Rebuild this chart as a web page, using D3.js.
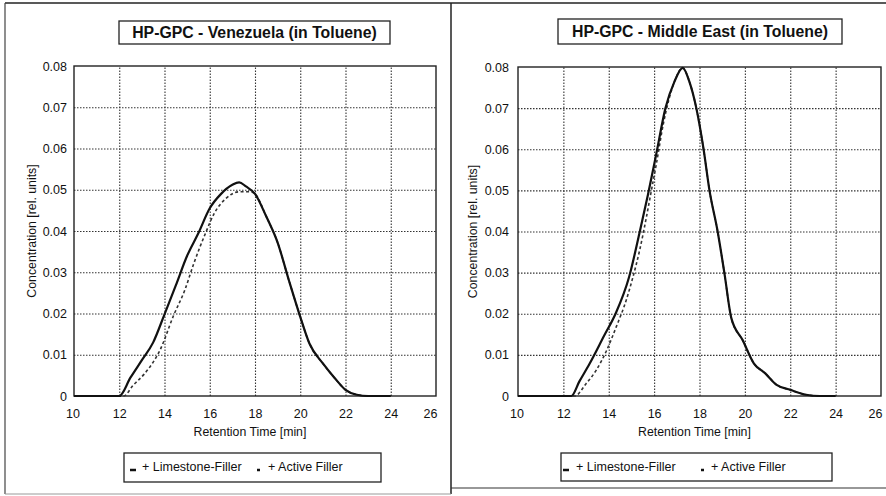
<!DOCTYPE html>
<html>
<head>
<meta charset="utf-8">
<script src="https://cdn.jsdelivr.net/npm/d3@7"></script>
<style>
  html, body { margin: 0; padding: 0; background: #fff; }
  svg { display: block; font-family: "Liberation Sans", Arial, sans-serif; }
</style>
</head>
<body>
<svg id="chart" width="886" height="496"></svg>
<script>
// ---------------- DATA ----------------
const xTicks = [10, 12, 14, 16, 18, 20, 22, 24, 26];
const yTicks = [0, 0.01, 0.02, 0.03, 0.04, 0.05, 0.06, 0.07, 0.08];
const titles = ["HP-GPC - Venezuela (in Toluene)", "HP-GPC - Middle East (in Toluene)"];
const xTitle = "Retention Time [min]";
const yTitle = "Concentration [rel. units]";
const legendLabels = ["+ Limestone-Filler", "+ Active Filler"];

// Venezuela – Limestone-Filler (solid)
const venLimeTime = [10, 11, 12, 12.5, 13, 13.5, 14, 14.5, 15, 15.5, 16, 16.5, 17, 17.3, 17.6, 18, 18.5, 19, 19.5, 20, 20.4, 21, 21.5, 22, 22.5, 23, 24];
const venLimeConc = [0, 0, 0, 0.0045, 0.0087, 0.013, 0.0198, 0.0268, 0.034, 0.0395, 0.0455, 0.049, 0.0512, 0.0518, 0.0508, 0.049, 0.0435, 0.0372, 0.028, 0.0192, 0.0128, 0.0079, 0.0045, 0.0015, 0.0003, 0, 0];
// Venezuela – Active Filler (dashed)
const venActTime = [10, 11, 12, 12.2, 12.6, 13.1, 13.5, 13.8, 14.4, 14.9, 15.3, 15.8, 16.2, 16.7, 17.3, 17.8, 18, 18.5, 19, 19.5, 20, 20.4, 21, 21.5, 22, 22.5, 23, 24];
const venActConc = [0, 0, 0, 0, 0.0025, 0.0053, 0.0082, 0.0111, 0.0195, 0.0257, 0.0322, 0.0393, 0.0443, 0.0478, 0.0495, 0.0495, 0.049, 0.0435, 0.0372, 0.028, 0.0192, 0.0128, 0.0079, 0.0045, 0.0015, 0.0003, 0, 0];

// Middle East – Limestone-Filler (solid)
const meLimeTime = [10, 11, 12, 12.35, 12.7, 13.16, 13.8, 14.3, 14.9, 15.35, 15.73, 16.1, 16.5, 16.9, 17.26, 17.55, 17.86, 18.18, 18.44, 18.8, 19.1, 19.4, 19.9, 20.4, 20.9, 21.4, 22, 22.7, 23.3, 24];
const meLimeConc = [0, 0, 0, 0, 0.0035, 0.0079, 0.0147, 0.02, 0.029, 0.0395, 0.049, 0.059, 0.07, 0.0765, 0.0798, 0.0765, 0.07, 0.06, 0.05, 0.04, 0.0298, 0.019, 0.0136, 0.0079, 0.0055, 0.0027, 0.0015, 0.0003, 0, 0];
// Middle East – Active Filler (dashed)
const meActTime = [10, 11, 12, 12.5, 13, 13.45, 13.9, 14.33, 14.77, 15.07, 15.36, 15.66, 15.88, 16.1, 16.4, 16.9, 17.26, 17.55, 17.86, 18.18, 18.44, 18.8, 19.1, 19.4, 19.9, 20.4, 20.9, 21.4, 22, 22.7, 23.3, 24];
const meActConc = [0, 0, 0, 0, 0.003, 0.0063, 0.011, 0.0168, 0.0233, 0.029, 0.0354, 0.0435, 0.05, 0.0565, 0.066, 0.0765, 0.0798, 0.0765, 0.07, 0.06, 0.05, 0.04, 0.0298, 0.019, 0.0136, 0.0079, 0.0055, 0.0027, 0.0015, 0.0003, 0, 0];

// ---------------- LAYOUT ----------------
const svg = d3.select("#chart");

// outer frame (scanned table borders)
svg.append("line").attr("x1", 5).attr("y1", 3).attr("x2", 886).attr("y2", 3).attr("stroke", "#222").attr("stroke-width", 1.5);
svg.append("line").attr("x1", 5).attr("y1", 3).attr("x2", 5).attr("y2", 494).attr("stroke", "#444").attr("stroke-width", 1.2);
svg.append("line").attr("x1", 451).attr("y1", 3).attr("x2", 451).attr("y2", 494).attr("stroke", "#222").attr("stroke-width", 1.5);
svg.append("line").attr("x1", 5).attr("y1", 494).attr("x2", 451).attr("y2", 494).attr("stroke", "#999").attr("stroke-width", 1);
svg.append("line").attr("x1", 451).attr("y1", 488).attr("x2", 886).attr("y2", 488).attr("stroke", "#333").attr("stroke-width", 1.2);

const panels = [
  {
    title: titles[0],
    plot: { left: 74, right: 436, top: 66, bottom: 396 },
    titleBox: { x: 119, y: 21, w: 271, h: 23 },
    legendBox: { x: 124, y: 453, w: 257, h: 29 },
    legendItems: [{ sx: 130, tx: 142 }, { sx: 257, tx: 268 }],
    yLabelX: 32, yTickGap: 7,
    series: [
      { t: venLimeTime, c: venLimeConc, dash: null },
      { t: venActTime, c: venActConc, dash: "3,2.5" }
    ]
  },
  {
    title: titles[1],
    plot: { left: 518, right: 881, top: 67, bottom: 396 },
    titleBox: { x: 558, y: 19, w: 284, h: 25 },
    legendBox: { x: 561, y: 453, w: 271, h: 28 },
    legendItems: [{ sx: 563, tx: 576 }, { sx: 701, tx: 711 }],
    yLabelX: 473, yTickGap: 9,
    series: [
      { t: meLimeTime, c: meLimeConc, dash: null },
      { t: meActTime, c: meActConc, dash: "3,2.5" }
    ]
  }
];

panels.forEach(p => {
  const g = svg.append("g");
  const { left, right, top, bottom } = p.plot;
  const x = d3.scaleLinear().domain([10, 26]).range([left, right]);
  const y = d3.scaleLinear().domain([0, 0.08]).range([bottom, top]);

  // title box
  g.append("rect").attr("x", p.titleBox.x).attr("y", p.titleBox.y)
    .attr("width", p.titleBox.w).attr("height", p.titleBox.h)
    .attr("fill", "#fff").attr("stroke", "#222").attr("stroke-width", 1.3);
  g.append("text").attr("x", p.titleBox.x + p.titleBox.w / 2).attr("y", p.titleBox.y + p.titleBox.h / 2 + 5.5)
    .attr("text-anchor", "middle").attr("font-size", 15.8).attr("font-weight", "bold").attr("fill", "#111")
    .text(p.title);

  // gridlines
  g.append("g").attr("transform", `translate(0,${bottom})`)
    .call(d3.axisBottom(x).tickValues(xTicks.slice(1, -1)).tickSize(-(bottom - top)).tickFormat(""))
    .call(s => s.select(".domain").remove())
    .call(s => s.selectAll("line").attr("stroke", "#333").attr("stroke-width", 1.1).attr("stroke-dasharray", "1.5,1.5"));
  g.append("g").attr("transform", `translate(${left},0)`)
    .call(d3.axisLeft(y).tickValues(yTicks.slice(1, -1)).tickSize(-(right - left)).tickFormat(""))
    .call(s => s.select(".domain").remove())
    .call(s => s.selectAll("line").attr("stroke", "#333").attr("stroke-width", 1.1).attr("stroke-dasharray", "1.5,1.5"));

  // plot frame
  g.append("rect").attr("x", left).attr("y", top).attr("width", right - left).attr("height", bottom - top)
    .attr("fill", "none").attr("stroke", "#222").attr("stroke-width", 1.4);

  // axes labels
  const xAxis = g.append("g").attr("transform", `translate(0,${bottom})`)
    .call(d3.axisBottom(x).tickValues(xTicks).tickSize(0).tickPadding(13).tickFormat(d3.format("d")));
  xAxis.select(".domain").remove();
  xAxis.selectAll("text").attr("font-size", 12.5).attr("fill", "#111").attr("font-family", "Liberation Sans, Arial, sans-serif")
    .attr("dx", d => d === 26 ? -6 : (d === 10 ? -1.5 : 0));

  const yAxis = g.append("g").attr("transform", `translate(${left},0)`)
    .call(d3.axisLeft(y).tickValues(yTicks).tickSize(0).tickPadding(p.yTickGap)
      .tickFormat(d => d === 0 ? "0" : d3.format(".2f")(d)));
  yAxis.select(".domain").remove();
  yAxis.selectAll("text").attr("font-size", 12.5).attr("fill", "#111").attr("font-family", "Liberation Sans, Arial, sans-serif");

  // axis titles
  g.append("text").attr("x", (left + right) / 2 - 5).attr("y", 436)
    .attr("text-anchor", "middle").attr("font-size", 12.3).attr("fill", "#111").text(xTitle);
  g.append("text").attr("transform", `translate(${p.yLabelX + 4},${(top + bottom) / 2}) rotate(-90)`)
    .attr("text-anchor", "middle").attr("font-size", 12.3).attr("fill", "#111").text(yTitle);

  // series
  const line = d3.line().x(d => x(d[0])).y(d => y(d[1])).curve(d3.curveMonotoneX);
  p.series.slice().reverse().forEach(s => {
    const pts = s.t.map((t, i) => [t, s.c[i]]);
    g.append("path").attr("d", line(pts)).attr("fill", "none")
      .attr("stroke", s.dash ? "#333" : "#111")
      .attr("stroke-width", s.dash ? 1.6 : 2.2)
      .attr("stroke-dasharray", s.dash);
  });

  // legend
  const lb = p.legendBox;
  g.append("rect").attr("x", lb.x).attr("y", lb.y).attr("width", lb.w).attr("height", lb.h)
    .attr("fill", "#fff").attr("stroke", "#222").attr("stroke-width", 1.3);
  p.legendItems.forEach((it, i) => {
    g.append("line").attr("x1", it.sx).attr("x2", it.sx + (i === 0 ? 6 : 3))
      .attr("y1", lb.y + 17).attr("y2", lb.y + 17)
      .attr("stroke", "#111").attr("stroke-width", 2.5);
    g.append("text").attr("x", it.tx).attr("y", lb.y + 18).attr("font-size", 12.5).attr("fill", "#111")
      .text(legendLabels[i]);
  });
});
</script>
</body>
</html>
